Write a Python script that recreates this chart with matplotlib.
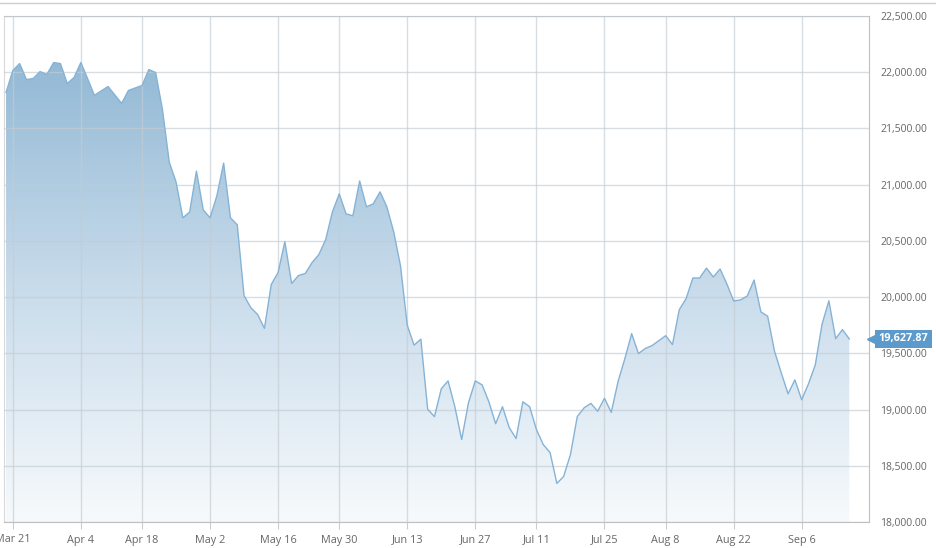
import numpy as np
import matplotlib
matplotlib.use("Agg")
import matplotlib.pyplot as plt
from matplotlib.colors import LinearSegmentedColormap
from matplotlib.lines import Line2D
from matplotlib.transforms import blended_transform_factory

plt.rcParams["font.family"] = ["Open Sans", "DejaVu Sans"]

# daily closes, one per trading day (Mar 18 .. Sep 16)
closes = [
    21820, 22015, 22077, 21935, 21944, 22006, 21980, 22086, 22077, 21900,
    21953, 22086, 21942, 21794, 21834, 21873, 21798, 21723, 21838, 21860,
    21882, 22024, 21997, 21670, 21201, 21024, 20705, 20757, 21121, 20776,
    20705, 20900, 21192, 20705, 20643, 20013, 19906, 19845, 19722, 20112,
    20218, 20493, 20121, 20192, 20210, 20307, 20378, 20511, 20759, 20918,
    20741, 20723, 21033, 20803, 20830, 20936, 20803, 20582, 20281, 19750,
    19573, 19626, 19003, 18937, 19184, 19255, 19025, 18733, 19060, 19255,
    19220, 19069, 18874, 19025, 18839, 18742, 19069, 19025, 18821, 18688,
    18618, 18343, 18405, 18600, 18937, 19015, 19055, 18985, 19100, 18975,
    19250, 19453, 19675, 19498, 19543, 19569, 19613, 19657, 19578, 19888,
    19986, 20170, 20170, 20258, 20179, 20250, 20117, 19966, 19975, 20010,
    20152, 19869, 19830, 19520, 19326, 19140, 19264, 19087, 19229, 19397,
    19760, 19967, 19631, 19711, 19627.87,
]
tick_days = [1, 11, 20, 30, 40, 49, 59, 69, 78, 88, 97, 107, 117]
tick_labels = ["Mar 21", "Apr 4", "Apr 18", "May 2", "May 16", "May 30", "Jun 13",
               "Jun 27", "Jul 11", "Jul 25", "Aug 8", "Aug 22", "Sep 6"]
y_ticks = [18000, 18500, 19000, 19500, 20000, 20500, 21000, 21500, 22000, 22500]

x = np.arange(len(closes))
y = np.array(closes, dtype=float)

W, H = 936, 548
fig = plt.figure(figsize=(W / 100, H / 100), dpi=100)
ax = fig.add_axes([4 / W, 1 - 522 / H, (869 - 4) / W, (522 - 16) / H])

ymin, ymax = 18000, 22500
xmin, xmax = -0.3, 126.9
ax.set_xlim(xmin, xmax)
ax.set_ylim(ymin, ymax)

# gradient fill clipped to the area under the line
poly = ax.fill_between(x, y, ymin, facecolor="none", edgecolor="none")
cmap = LinearSegmentedColormap.from_list("area", ["#f7fafc", "#c9dceb", "#93b9d5"])
grad = np.linspace(0, 1, 256).reshape(-1, 1)
img = ax.imshow(grad, cmap=cmap, aspect="auto", origin="lower",
                extent=[xmin, xmax, ymin, 22100], zorder=1)
img.set_clip_path(poly.get_paths()[0], transform=ax.transData)

ax.plot(x, y, color="#85b3d6", lw=1.0, zorder=4)

# grid
ax.set_yticks(y_ticks)
ax.set_xticks(tick_days)
ax.set_xticklabels(tick_labels)
ax.yaxis.tick_right()
ax.set_yticklabels([f"{v:,.2f}" for v in y_ticks])
ax.grid(True, color="#c4ccd2", lw=1.0, alpha=0.65, zorder=3)
ax.set_axisbelow(False)
for gl in ax.get_xgridlines() + ax.get_ygridlines():
    gl.set_zorder(3)

ax.tick_params(axis="y", length=0, pad=8, labelsize=7.5, labelcolor="#666666")
ax.tick_params(axis="x", length=5, width=0.8, color="#cccccc", pad=4,
               labelsize=7.8, labelcolor="#666666")

for side in ["top", "right", "bottom"]:
    ax.spines[side].set_color("#bfbfbf")
    ax.spines[side].set_linestyle((0, (1, 1)))
    ax.spines[side].set_linewidth(0.8)
ax.spines["left"].set_color("#d9d9d9")
ax.spines["left"].set_linewidth(0.8)

# outer top border of the widget
fig.add_artist(Line2D([0, 1], [1 - 3 / H, 1 - 3 / H], color="#c6d0cf", lw=1.0))

# last value badge
last = closes[-1]
trans = blended_transform_factory(ax.transAxes, ax.transData)
ax.plot([1.005], [last], marker="<", ms=8, color="#5b9aca", transform=trans,
        clip_on=False, zorder=6)
ax.text(1.011, last, f"{last:,.2f}", transform=trans, ha="left", va="center",
        fontsize=7.8, fontweight="bold", color="white", zorder=7,
        bbox=dict(boxstyle="square,pad=0.35", fc="#5b9aca", ec="none"))

fig.savefig("out.png", dpi=100)
